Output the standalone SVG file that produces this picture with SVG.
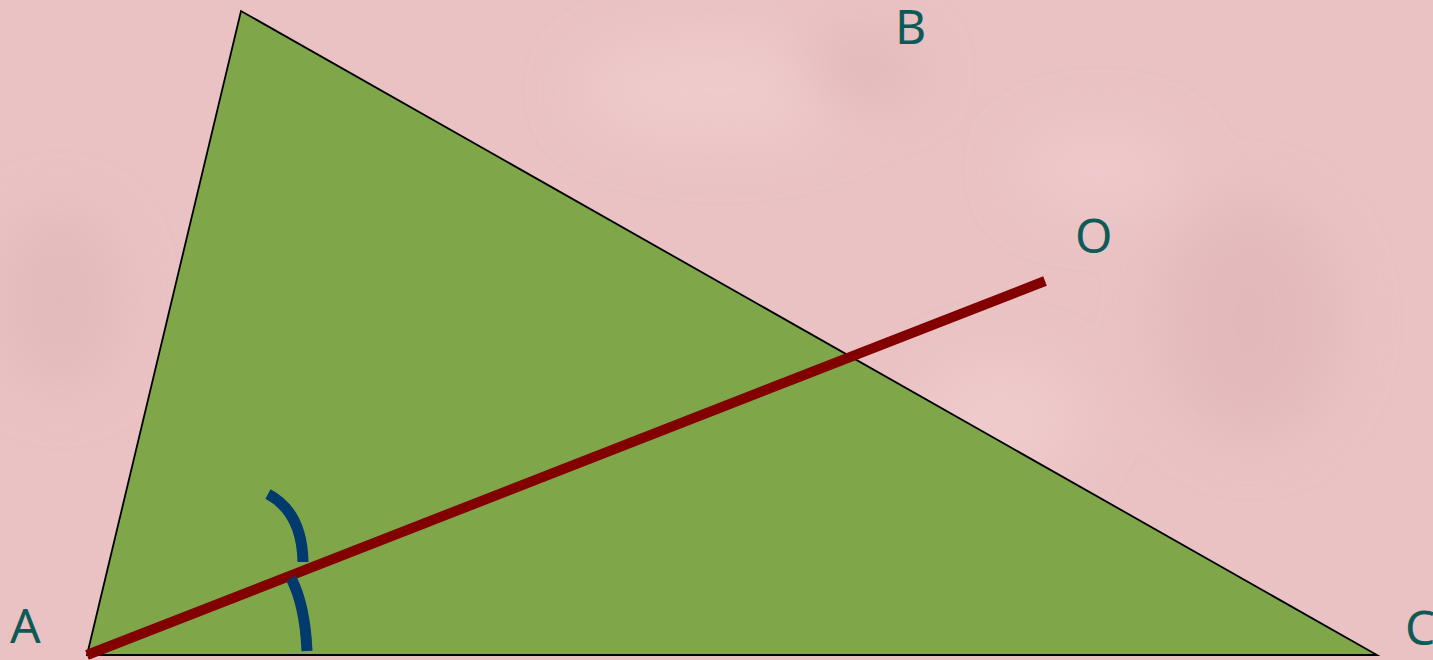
<svg xmlns="http://www.w3.org/2000/svg" width="1433" height="660" viewBox="0 0 1433 660">
<style>
.lbl{font-family:"Noto Sans","Open Sans","DejaVu Sans",sans-serif;font-size:48px;fill:#0d5b57}
.arc{fill:none;stroke:#023a6e;stroke-width:11}
</style>
<defs>
<filter id="blur" filterUnits="userSpaceOnUse" x="-100" y="-100" width="1633" height="860"><feGaussianBlur stdDeviation="30"/></filter>
</defs>
<rect width="1433" height="660" fill="#eac2c4"/>
<g filter="url(#blur)" opacity="0.6">
<ellipse cx="720" cy="90" rx="140" ry="50" fill="#f3d2d3"/>
<ellipse cx="860" cy="70" rx="60" ry="30" fill="#dcaeb1"/>
<ellipse cx="1250" cy="320" rx="90" ry="120" fill="#dfb3b6"/>
<ellipse cx="1100" cy="170" rx="80" ry="40" fill="#f2cfd0"/>
<ellipse cx="60" cy="300" rx="60" ry="90" fill="#dfb4b6"/>
<ellipse cx="1000" cy="420" rx="80" ry="60" fill="#f3d0d1"/>
</g>
<g id="triangle">
<polygon points="87,655 241,11 1377,655" fill="#7fa648" stroke="#000" stroke-width="1.8"/>
</g>
<g id="connectors">
<line x1="87" y1="655" x2="1045" y2="281" stroke="#820000" stroke-width="10"/>
<path class="arc" d="M268,494 Q302,512 303,562"/>
<path class="arc" d="M291,578 Q305,605 307,651"/>
</g>
<g id="label-A"><text class="lbl" x="10" y="643">A</text></g>
<g id="label-B"><text class="lbl" x="895" y="44">B</text></g>
<g id="label-O"><text class="lbl" x="1075" y="253">O</text></g>
<g id="label-C"><text class="lbl" x="1405" y="645">C</text></g>
</svg>
